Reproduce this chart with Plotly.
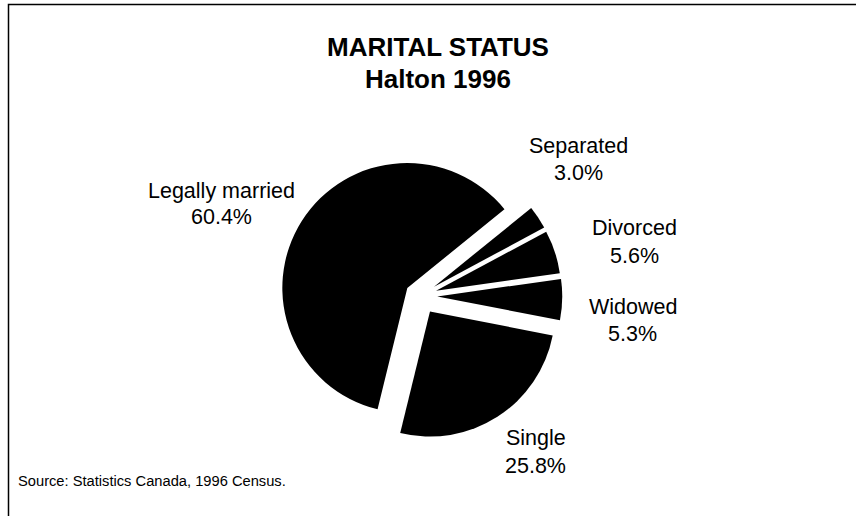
import plotly.graph_objects as go

# Data (clockwise order, starting at upper right)
categories = ["Separated", "Divorced", "Widowed", "Single", "Legally married"]
percent = [3.0, 5.6, 5.3, 25.8, 60.4]
pulls = [0.135, 0.135, 0.138, 0.148, 0.12]

W, H = 856, 516
FONT = "Liberation Sans, Arial, sans-serif"

# pie geometry (pixels)
cx, cy, R = 420, 296, 125
half = R * (1 + max(pulls))

fig = go.Figure(go.Pie(
    labels=categories,
    values=percent,
    pull=pulls,
    sort=False,
    direction="clockwise",
    rotation=51,
    textinfo="none",
    hoverinfo="label+percent",
    marker=dict(colors=["#000000"] * len(categories), line=dict(color="white", width=0)),
    domain=dict(x=[(cx - half) / W, (cx + half) / W],
                y=[(H - cy - half) / H, (H - cy + half) / H]),
    showlegend=False,
))

# label positions: x center, cap-centre y of line 1 and line 2 (pixels)
label_pos = {
    "Legally married": (221.5, 191, 216.6),
    "Separated": (578.7, 145.6, 172.6),
    "Divorced": (634.2, 228.3, 256),
    "Widowed": (632.5, 306.6, 334),
    "Single": (535.8, 438.3, 466.3),
}


def add_text(txt, px, py, size, anchor="center", bold=False):
    fig.add_annotation(
        text=f"<b>{txt}</b>" if bold else txt, x=px / W, y=1 - py / H,
        xref="paper", yref="paper", xanchor=anchor, yanchor="middle",
        showarrow=False, font=dict(family=FONT, size=size, color="black"),
    )


for cat, val in zip(categories, percent):
    px, y1, y2 = label_pos[cat]
    add_text(cat, px, y1, 21.5)
    add_text(f"{val:.1f}%", px, y2, 21.5)

add_text("MARITAL STATUS", 437.5, 46.7, 26, bold=True)
add_text("Halton 1996", 437.5, 79.4, 26, bold=True)
add_text("Source: Statistics Canada, 1996 Census.", 16, 481, 14.7, anchor="left")

# frame (top and left edges visible)
fig.add_shape(type="rect", xref="paper", yref="paper",
              x0=8.5 / W, x1=1.05, y0=-0.05, y1=1 - 4.5 / H,
              line=dict(color="black", width=1.5), fillcolor="rgba(0,0,0,0)")

fig.update_layout(
    width=W, height=H,
    margin=dict(l=0, r=0, t=0, b=0),
    paper_bgcolor="white", plot_bgcolor="white",
    font=dict(family=FONT, color="black"),
)
fig.write_html("out.html", config={"displayModeBar": False},
               post_script="document.body.style.margin='0';")
